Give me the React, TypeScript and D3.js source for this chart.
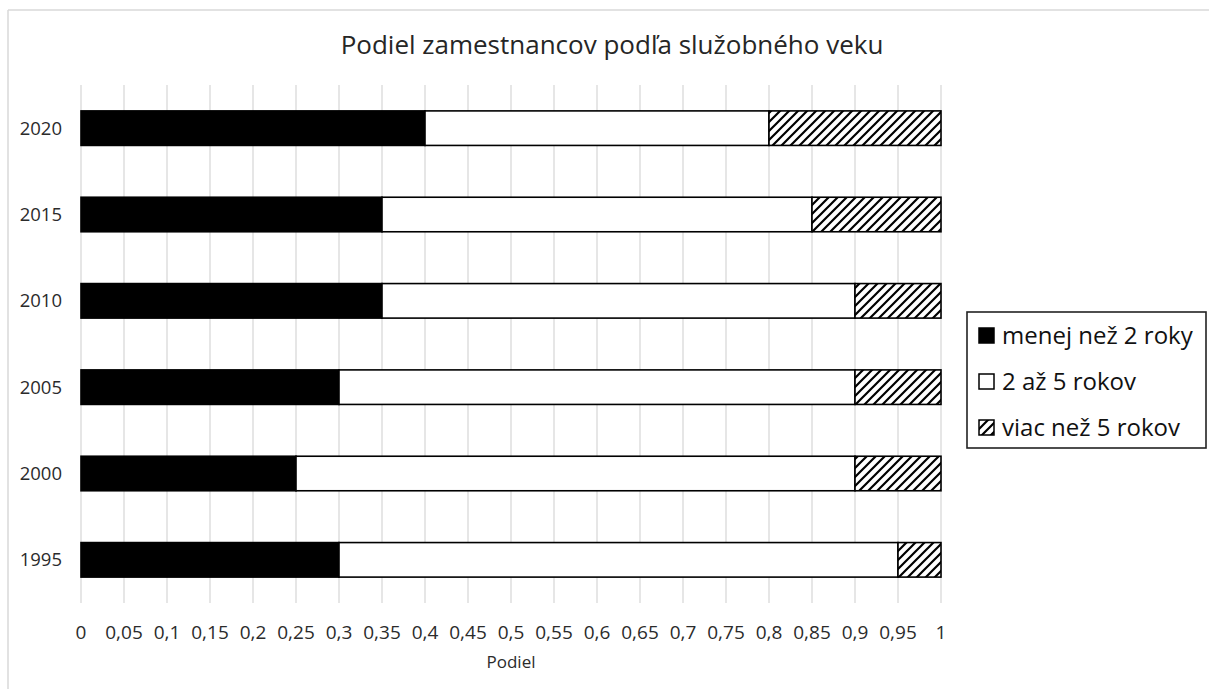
import React from "react";
import * as d3 from "d3";

const years = ["2020", "2015", "2010", "2005", "2000", "1995"];
const under2 = [0.4, 0.35, 0.35, 0.3, 0.25, 0.3];
const from2to5 = [0.4, 0.5, 0.55, 0.6, 0.65, 0.65];
const over5 = [0.2, 0.15, 0.1, 0.1, 0.1, 0.05];
const seriesNames = ["menej než 2 roky", "2 až 5 rokov", "viac než 5 rokov"];
const xTicks = d3.range(0, 21).map((i) => i * 0.05);

const W = 1209;
const H = 689;
const margin = { top: 85, left: 81, right: 268, bottom: 86 };
const font = "'Open Sans', sans-serif";

const App = () => {
  const x = d3
    .scaleLinear()
    .domain([0, 1])
    .range([margin.left, W - margin.right]);
  const y = d3
    .scaleBand()
    .domain(years)
    .range([margin.top, H - margin.bottom])
    .paddingInner(0.6)
    .paddingOuter(0.3);

  const rows = years.map((yr, i) => ({
    year: yr,
    values: [under2[i], from2to5[i], over5[i]],
  }));
  const stack = d3.stack().keys(["0", "1", "2"]);
  const stacked = stack(rows.map((r) => ({ 0: r.values[0], 1: r.values[1], 2: r.values[2] })) as any);
  const fills = ["#000", "#fff", "url(#hatch)"];

  const fmt = (v: number) => String(+v.toFixed(2)).replace(".", ",");

  const legendX = 967;
  const legendY = 312;

  return (
    <svg width={W} height={H} style={{ position: "absolute", left: 0, top: 0 }}>
      <defs>
        <pattern id="hatch" patternUnits="userSpaceOnUse" width={9} height={9}>
          <rect width={9} height={9} fill="#fff" />
          <path d="M-1,10 L10,-1 M-3,3 L3,-3 M6,12 L12,6" stroke="#000" strokeWidth={2.2} />
        </pattern>
      </defs>
      <rect x={0} y={0} width={W} height={H} fill="#fff" />
      <line x1={8} x2={W} y1={10} y2={10} stroke="#d9d9d9" strokeWidth={1.5} />
      <line x1={8} x2={8} y1={10} y2={H} stroke="#d9d9d9" strokeWidth={1.5} />

      <text x={612} y={54} textAnchor="middle" fontFamily={font} fontSize={26} fill="#262626">
        Podiel zamestnancov podľa služobného veku
      </text>

      {xTicks.map((t) => (
        <g key={t}>
          <line
            x1={x(t)}
            x2={x(t)}
            y1={margin.top}
            y2={H - margin.bottom}
            stroke="#d9d9d9"
            strokeWidth={1.3}
          />
          <text x={x(t)} y={639} textAnchor="middle" fontFamily={font} fontSize={19} fill="#2b2b2b">
            {fmt(t)}
          </text>
        </g>
      ))}

      {stacked.map((s, k) =>
        s.map((d, i) => (
          <rect
            key={k + "-" + i}
            x={x(d[0])}
            y={y(years[i])}
            width={x(d[1]) - x(d[0])}
            height={y.bandwidth()}
            fill={fills[k]}
            stroke="#000"
            strokeWidth={1.6}
          />
        ))
      )}

      {years.map((yr) => (
        <text
          key={yr}
          x={62}
          y={(y(yr) as number) + y.bandwidth() / 2}
          dy="0.35em"
          textAnchor="end"
          fontFamily={font}
          fontSize={18.5}
          fill="#2b2b2b"
        >
          {yr}
        </text>
      ))}

      <text x={x(0.5)} y={668} textAnchor="middle" fontFamily={font} fontSize={17} fill="#2b2b2b">
        Podiel
      </text>

      <rect x={legendX} y={legendY} width={239} height={136} fill="#fff" stroke="#222" strokeWidth={1.6} />
      {seriesNames.map((name, i) => (
        <g key={name} transform={`translate(${legendX + 12},${legendY + 16 + i * 46})`}>
          <rect width={15} height={15} fill={fills[i]} stroke="#000" strokeWidth={1.5} />
          <text x={23} y={7.5} dy="0.35em" fontFamily={font} fontSize={24} fill="#111">
            {name}
          </text>
        </g>
      ))}
    </svg>
  );
};

export default App;
